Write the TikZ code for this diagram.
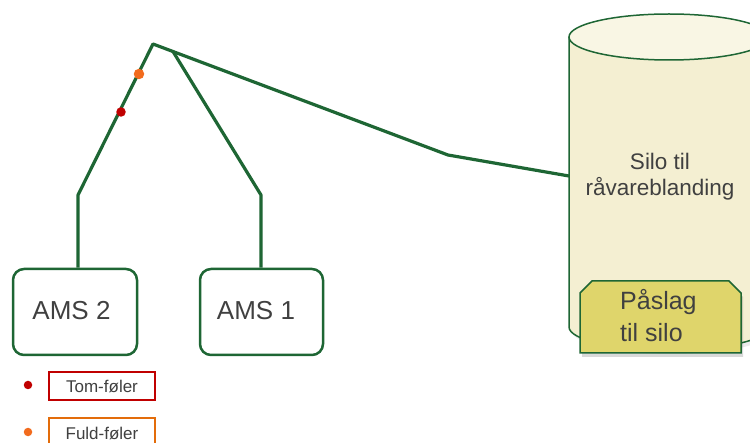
\documentclass[tikz,border=0pt]{standalone}
\usepackage{fontspec}
\setmainfont{Liberation Sans}
\definecolor{lgreen}{HTML}{1E6634}
\definecolor{tgray}{HTML}{404040}
\definecolor{cylbody}{HTML}{F4EFD2}
\definecolor{cyltop}{HTML}{F9F6E4}
\definecolor{paslagfill}{HTML}{DFD56B}
\definecolor{tomred}{HTML}{C00000}
\definecolor{fuldorange}{HTML}{E36C0A}
\definecolor{dotorange}{HTML}{F26B1D}
\begin{document}
\begin{tikzpicture}[x=1pt,y=1pt,
  wire/.style={draw=lgreen, line width=3.2pt, line join=round},
  amsbox/.style={draw=lgreen, line width=2.5pt, rounded corners=11pt, fill=white,
    minimum height=86pt, inner sep=0pt},
  amslbl/.style={text=tgray, font=\fontsize{26}{30}\selectfont, inner sep=0pt},
  cylline/.style={draw=lgreen, line width=1.5pt},
  legbox/.style={line width=2.2pt, minimum width=106pt, minimum height=28pt, inner sep=0pt, fill=white},
  leglbl/.style={text=tgray, font=\fontsize{17}{20}\selectfont, inner sep=0pt},
  sensordot/.style={circle, inner sep=0pt, minimum size=9pt}]
\useasboundingbox (0,0) rectangle (750,442);
\clip (0,0) rectangle (750,442);

% silo cylinder
\fill[black, opacity=0.08] (572,401) -- (572,111) arc[start angle=180,end angle=360,x radius=100,y radius=23] -- (772,401) -- cycle;
\fill[cylbody] (569,405) -- (569,115) arc[start angle=180,end angle=360,x radius=100,y radius=23] -- (769,405) -- cycle;
\draw[cylline] (569,405) -- (569,115) arc[start angle=180,end angle=360,x radius=100,y radius=23] -- (769,405);
\draw[cylline, fill=cyltop] (669,405) ellipse[x radius=100, y radius=23];
\coordinate (siloW) at (569,266);
\node[text=tgray, font=\fontsize{22.5}{26}\selectfont, align=center] (silotxt) at (660,265) {Silo til\\råvareblanding};

% paaslag box
\fill[black, opacity=0.15] (582,85) -- (582,145) -- (594,157) -- (731,157) -- (743,145) -- (743,85) -- cycle;
\draw[lgreen, line width=1.5pt, fill=paslagfill] (580,89) -- (580,149) -- (592,161) -- (729,161) -- (741,149) -- (741,89) -- cycle;
\node[anchor=base west, text=tgray, font=\fontsize{25}{30}\selectfont, inner sep=0pt] (pas1) at (620,132) {Påslag};
\node[anchor=base west, text=tgray, font=\fontsize{25}{30}\selectfont, inner sep=0pt] (pas2) at (620,100) {til silo};

% AMS boxes
\node[amsbox, minimum width=124pt] (ams2) at (75,130) {};
\node[amslbl] (ams2t) at (71.5,131) {AMS 2};
\node[amsbox, minimum width=123pt] (ams1) at (261.5,130) {};
\node[amslbl] (ams1t) at (256,131) {AMS 1};

% pipes
\coordinate (b2) at (78,247);
\coordinate (apex) at (153,398);
\coordinate (kink) at (448,287);
\coordinate (b1) at (261,247);
\coordinate (join) at (173,390.5);
\draw[wire] (ams2.north -| b2) -- (b2) -- (apex) -- (kink) -- (siloW);
\draw[wire] (ams1.north -| b1) -- (b1) -- (join);

% sensors on pipe
\node[sensordot, fill=dotorange, minimum size=10.5pt] (fuldsens) at (139,368) {};
\node[sensordot, fill=tomred, minimum size=9.5pt] (tomsens) at (121,330) {};

% legend
\node[sensordot, fill=tomred, minimum size=8.5pt] (tomdot) at (28,57) {};
\node[legbox, draw=tomred] (tombox) at (102,56) {};
\node[leglbl] (tomtxt) at (102,56) {Tom-føler};
\node[sensordot, fill=dotorange, minimum size=8.5pt] (fulddot) at (28,10) {};
\node[legbox, draw=fuldorange] (fuldbox) at (102,10) {};
\node[leglbl] (fuldtxt) at (102,9) {Fuld-føler};
\end{tikzpicture}
\end{document}
